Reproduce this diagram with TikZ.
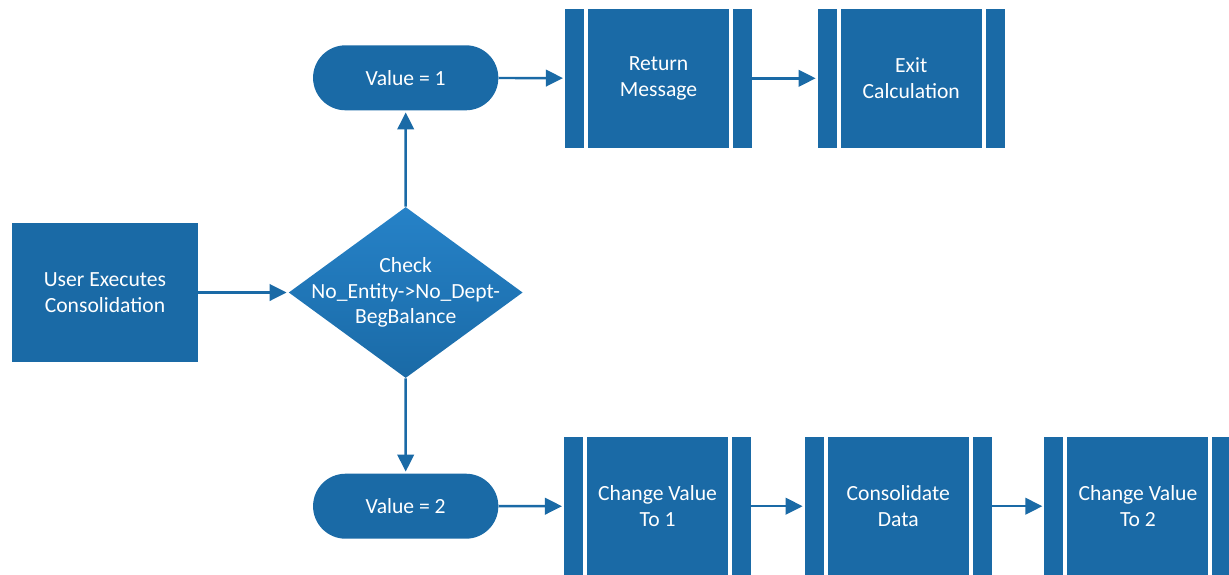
\documentclass[tikz,border=0pt]{standalone}
\usepackage{fontspec}
\setmainfont{Carlito}
\usepackage{tikz}
\usetikzlibrary{shapes.geometric, shapes.misc, arrows.meta, positioning}
\definecolor{flowblue}{RGB}{26,106,166}
\definecolor{flowlight}{RGB}{38,130,200}
\tikzstyle{process} = [rectangle, minimum width=3.72cm, minimum height=2.78cm, fill=flowblue, text=white, align=center]
\tikzstyle{decision} = [diamond, minimum width=4.68cm, minimum height=3.42cm, inner sep=0pt, top color=flowlight, bottom color=flowblue]
\tikzstyle{terminal} = [rounded rectangle, minimum width=3.94cm, minimum height=1.3cm, fill=flowblue, text=white]
\tikzstyle{subroutine} = [process, minimum width=3.74cm, path picture={
    \draw[white, line width=0.08cm]
      ([xshift=0.42cm]path picture bounding box.north west) -- ([xshift=0.42cm]path picture bounding box.south west)
      ([xshift=-0.42cm]path picture bounding box.north east) -- ([xshift=-0.42cm]path picture bounding box.south east);
  }]
\tikzstyle{arrow} = [line width=1.4pt, draw=flowblue, -{Triangle[length=0.34cm, width=0.33cm]}, shorten >=1pt]

\begin{document}
\begin{tikzpicture}[
    every node/.style={font=\fontsize{12.3}{14.6}\selectfont}
]
\useasboundingbox (0,0) rectangle (24.58,-11.48);

% Nodes
\node (user) [process] at (2.1,-5.85) {User Executes\\Consolidation};
\node (check) [decision, right=1.8cm of user,
    label={[text=white, align=center]center:Check\\No\_Entity->No\_Dept-\\BegBalance}] {};
\node (val1) [terminal, above=1.92cm of check] {Value = 1};
\node (val2) [terminal, below=1.9cm of check] {Value = 2};
\node (return) [subroutine, right=1.32cm of val1, yshift=-0.01cm] {Return\\Message};
\node (exit) [subroutine, right=1.3cm of return] {Exit\\Calculation};
\node (change1) [subroutine, right=1.3cm of val2] {Change Value\\To 1};
\node (consolidate) [subroutine, right=1.06cm of change1] {Consolidate\\Data};
\node (change2) [subroutine, right=1.04cm of consolidate] {Change Value\\To 2};

% Arrows
\draw [arrow] (user) -- (check);
\draw [arrow] (check) -- (val1);
\draw [arrow] (check) -- (val2);
\draw [arrow] (val1) -- (return);
\draw [arrow] (return) -- (exit);
\draw [arrow] (val2) -- (change1);
\draw [arrow] (change1) -- (consolidate);
\draw [arrow] (consolidate) -- (change2);

\end{tikzpicture}
\end{document}
